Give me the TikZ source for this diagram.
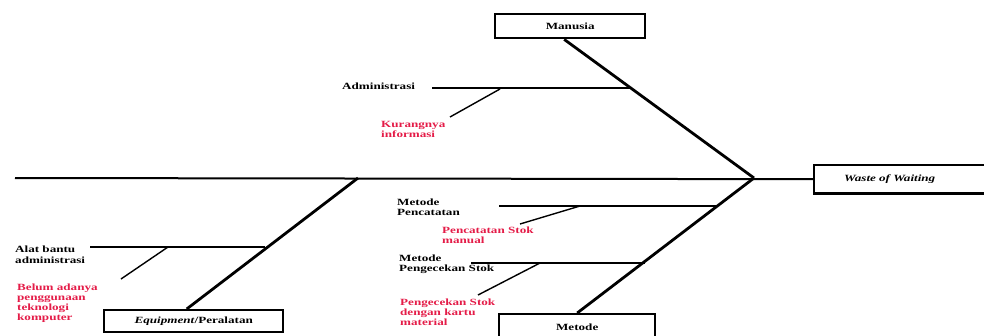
\documentclass[tikz,border=0pt]{standalone}
\usepackage{fontspec}
\setmainfont[FakeStretch=1.38]{Liberation Serif}
\usetikzlibrary{calc}
\definecolor{causered}{RGB}{228,28,72}
\tikzset{
  catbox/.style={draw, line width=2.4pt, inner sep=0pt, font=\fontsize{9.5}{10}\selectfont\bfseries},
  lbl/.style={inner sep=0pt, anchor=north west, align=left, font=\fontsize{9.5}{10.5}\selectfont\bfseries},
  redlbl/.style={lbl, text=causered, font=\fontsize{9.5}{10}\selectfont\bfseries},
  spine/.style={line width=2pt},
  bone/.style={line width=2.8pt},
  cause/.style={line width=2pt},
  subcause/.style={line width=1.4pt}
}
\begin{document}
\begin{tikzpicture}[x=1pt,y=-1pt]
\useasboundingbox (0,0) rectangle (984,335);
\begin{scope}
\clip (0,0) rectangle (984,335);

% category boxes
\node[catbox, anchor=north west, minimum width=150pt, minimum height=24pt] (man) at (494,13) {Manusia};
\node[catbox, anchor=north west, minimum width=179pt, minimum height=22pt] (eq) at (103,309) {\textit{Equipment}/Peralatan};
\node[catbox, anchor=north west, minimum width=156pt, minimum height=26pt] (met) at (498,313) {Metode};

% effect box, running off the right edge
\node[catbox, draw=none, anchor=north west, minimum height=26pt, text width=120pt, align=left, inner xsep=29pt] (head) at (814,165) {\textit{Waste of Waiting}};
\draw[line width=2.4pt] ([xshift=30pt]head.north east) -- (head.north west) -- (head.south west) -- ([xshift=30pt]head.south east);

% spine
\coordinate (tail) at (15,178);
\coordinate (J) at (754,178);
\coordinate (E) at (358,178);
\draw[spine] (tail) -- (head.west);

% main bones
\draw[bone] ([xshift=-6pt]man.south) -- (J);
\draw[bone] (J) -- (met.north);
\draw[bone] (E) -- ([xshift=-7pt]eq.north);

% Manusia: Administrasi
\coordinate (a1) at (432,88);
\coordinate (a2) at (632,88);
\coordinate (a3) at (500,89);
\coordinate (a4) at (450,117);
\draw[cause] (a1) -- (a2);
\draw[subcause] (a3) -- (a4);
\node[lbl] (adm) at (342,83) {Administrasi};
\node[redlbl] (admr) at (381,121.5) {Kurangnya\\informasi};

% Equipment: Alat bantu administrasi
\coordinate (b1) at (90,247);
\coordinate (b2) at (265,247);
\coordinate (b3) at (168,247);
\coordinate (b4) at (121,279);
\draw[cause] (b1) -- (b2);
\draw[subcause] (b3) -- (b4);
\node[lbl] (alat) at (15,246) {Alat bantu\\administrasi};
\node[redlbl] (alatr) at (17,284) {Belum adanya\\penggunaan\\teknologi\\komputer};

% Metode: Metode Pencatatan
\coordinate (c1) at (499,206);
\coordinate (c2) at (718,206);
\coordinate (c3) at (580,206);
\coordinate (c4) at (520,224);
\draw[cause] (c1) -- (c2);
\draw[subcause] (c3) -- (c4);
\node[lbl] (mpc) at (397,198.5) {Metode\\Pencatatan};
\node[redlbl] (mpcr) at (442,226.5) {Pencatatan Stok\\manual};

% Metode: Metode Pengecekan Stok
\coordinate (d1) at (471,263);
\coordinate (d2) at (645,263);
\coordinate (d3) at (540,263);
\coordinate (d4) at (478,295);
\draw[cause] (d1) -- (d2);
\draw[subcause] (d3) -- (d4);
\node[lbl] (mpk) at (399,254.5) {Metode\\Pengecekan Stok};
\node[redlbl] (mpkr) at (400,298.5) {Pengecekan Stok\\dengan kartu\\material};
\end{scope}
\end{tikzpicture}
\end{document}
